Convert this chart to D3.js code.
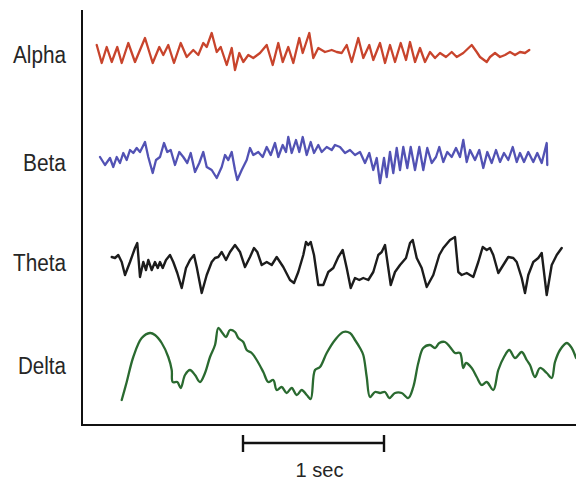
<!DOCTYPE html>
<html><head><meta charset="utf-8">
<script src="https://cdn.jsdelivr.net/npm/d3@7"></script>
<style>html,body{margin:0;padding:0;background:#fff;}svg{display:block;}</style>
</head><body>
<svg id="chart" width="576" height="484"></svg>
<script>
// Band names
const bands = ["Alpha", "Beta", "Theta", "Delta"];
const bandColors = ["#c8442c", "#5252b4", "#1c1c1c", "#2a6a30"];

// Time in ms, amplitude in arbitrary units
const alphaT = [103,138,173,208,247,278,324,371,441,495,541,569,604,644,691,733,779,814,849,873,908,943,971,1013,1048,1071,1101,1129,1164,1199,1246,1293,1335,1374,1405,1444,1479,1521,1545,1591,1619,1654,1701,1748,1783,1818,1853,1888,1934,1969,2011,2039,2086,2121,2156,2191,2231,2268,2296,2331,2366,2401,2436,2471,2506,2548,2588,2623,2669,2728,2763,2786,2833,2856,2891,2926,2961,2996,3031,3066,3101,3131];
const alphaV = [6,-12,4,-11,4,-12,8,-11,13,-12,4,-4,6,-12,8,-6,1,-4,8,4,18,-1,4,-14,3,-19,-2,-11,-4,-7,-2,6,-14,8,-11,4,-12,13,-2,18,-7,3,-1,1,-1,-2,6,-11,13,-7,6,-9,8,-12,6,-11,8,-9,9,-11,3,-11,-1,-7,-2,-6,-1,-6,-2,6,-1,-6,-11,-6,-2,-6,-4,-1,-4,-1,-2,1];

const betaT = [126,161,196,219,243,266,289,313,336,359,383,406,441,464,495,518,546,574,597,621,651,681,709,737,761,791,821,849,873,908,943,978,1001,1024,1048,1071,1087,1118,1153,1176,1199,1234,1265,1293,1321,1351,1374,1405,1428,1444,1468,1498,1521,1545,1573,1601,1624,1654,1678,1713,1748,1771,1806,1841,1876,1911,1946,1981,2011,2039,2063,2086,2114,2133,2156,2179,2203,2226,2249,2277,2301,2331,2361,2389,2417,2448,2478,2501,2529,2557,2588,2618,2646,2669,2693,2716,2751,2781,2809,2837,2868,2898,2926,2954,2984,3015,3043,3066,3094,3124,3159,3187,3218,3253,3257];
const betaV = [1,-7,0,-9,1,-5,5,-2,8,5,10,6,16,1,-15,-2,1,15,6,8,-7,6,1,-5,5,-14,-5,6,-9,-12,-20,-9,3,-2,6,-12,-22,-12,-2,10,3,6,1,11,3,15,1,13,6,21,5,18,6,21,3,16,5,13,6,11,8,13,11,5,8,3,6,-5,5,-12,0,-25,0,-19,6,-15,10,-12,11,-10,11,-12,11,-12,10,-5,1,11,-4,6,1,10,1,18,-4,8,-2,8,-10,6,-5,8,-4,5,-2,11,-4,5,-4,6,-4,5,-5,15,-7];

const thetaT = [208,231,254,278,301,336,371,387,406,429,448,464,488,511,530,546,565,588,616,639,667,698,728,756,784,803,838,873,908,931,954,978,1008,1036,1071,1106,1141,1176,1204,1227,1258,1293,1328,1363,1409,1456,1484,1514,1549,1568,1584,1601,1624,1654,1689,1724,1759,1794,1825,1853,1881,1911,1941,1969,2004,2039,2074,2098,2121,2133,2161,2191,2226,2268,2296,2315,2343,2378,2413,2459,2501,2529,2576,2611,2634,2658,2693,2739,2774,2805,2833,2856,2879,2914,2949,2984,3019,3043,3078,3101,3124,3159,3194,3218,3253,3288,3323,3358];
const thetaV = [7,6,9,2,-11,2,16,21,-13,2,-6,4,-6,2,-4,2,-4,4,9,2,-9,-24,-4,4,9,-3,-29,-11,2,6,7,12,4,12,19,12,-3,7,16,12,-1,2,-1,7,-3,-16,-19,-8,9,22,19,22,9,-21,-21,-8,-4,7,14,-4,-24,-14,-16,-14,-16,-8,9,12,19,7,-21,-8,-1,6,21,24,6,-4,-23,-11,9,16,24,27,-8,-11,-9,-13,2,17,14,16,9,-9,-1,7,6,2,-14,-29,-11,2,6,11,-31,-1,9,16];

const deltaT = [278,313,359,418,476,511,558,604,628,635,667,691,721,756,791,826,861,896,931,954,978,1008,1036,1071,1094,1129,1153,1188,1223,1269,1304,1339,1363,1398,1433,1468,1503,1538,1573,1601,1631,1666,1713,1771,1829,1876,1911,1946,1969,1993,2016,2051,2086,2121,2151,2191,2238,2284,2319,2354,2389,2436,2471,2501,2541,2576,2611,2646,2669,2688,2728,2763,2798,2833,2879,2914,2954,2991,3031,3078,3113,3136,3171,3206,3253,3288,3311,3346,3393,3428,3458];
const deltaV = [-35,-17,8,27,32,30,22,8,-5,-17,-17,-23,-10,-5,-10,-17,-8,8,20,37,33,28,35,33,27,23,15,12,5,-7,-17,-15,-25,-22,-28,-23,-30,-25,-30,-34,-5,-2,12,25,33,32,25,17,10,-12,-32,-27,-28,-27,-33,-28,-28,-33,-22,2,17,20,17,22,23,18,12,12,-3,2,-3,-12,-20,-17,-25,-5,8,15,7,13,5,0,-12,-3,-8,-13,3,15,22,17,7];

// Scale bar (ms)
const scaleBarStart = 1127;
const scaleBarEnd = 2114;
const scaleBarLabel = "1 sec";

const svg = d3.select("#chart");
const margin = {left: 82, top: 10, bottom: 425, right: 576};

const x = d3.scaleLinear().domain([0, 3458]).range([margin.left, margin.right]);
const rowCenters = d3.scaleOrdinal().domain(bands).range([51, 158, 264, 365]);
const labelBaselines = d3.scaleOrdinal().domain(bands).range([63, 171, 271, 374]);
const labelWidths = d3.scaleOrdinal().domain(bands).range([53, 43, 53, 48]);
const amp = d3.scaleLinear().domain([-40, 40]).range([40, -40]);

const series = [
  {name: "Alpha", t: alphaT, v: alphaV, curve: d3.curveLinear, w: 2.3},
  {name: "Beta", t: betaT, v: betaV, curve: d3.curveLinear, w: 2.3},
  {name: "Theta", t: thetaT, v: thetaV, curve: d3.curveLinear, w: 2.4},
  {name: "Delta", t: deltaT, v: deltaV, curve: d3.curveCatmullRom.alpha(0.5), w: 2.3}
];

series.forEach((s, i) => {
  const pts = s.t.map((t, j) => [t, s.v[j]]);
  const line = d3.line()
    .x(d => x(d[0]))
    .y(d => rowCenters(s.name) + amp(d[1]))
    .curve(s.curve);
  svg.append("path")
    .datum(pts)
    .attr("d", line)
    .attr("fill", "none")
    .attr("stroke", bandColors[i])
    .attr("stroke-width", s.w)
    .attr("stroke-linejoin", "round")
    .attr("stroke-linecap", "round");
});

// Labels
svg.selectAll("text.band")
  .data(bands)
  .join("text")
  .attr("class", "band")
  .attr("x", 66)
  .attr("y", d => labelBaselines(d))
  .attr("text-anchor", "end")
  .attr("font-family", "Liberation Sans, Arial, sans-serif")
  .attr("font-size", 23)
  .attr("fill", "#262626")
  .attr("textLength", d => labelWidths(d))
  .attr("lengthAdjust", "spacingAndGlyphs")
  .text(d => d);

// Axes lines
svg.append("line")
  .attr("x1", margin.left).attr("x2", margin.left)
  .attr("y1", margin.top).attr("y2", margin.bottom)
  .attr("stroke", "#111").attr("stroke-width", 2);
svg.append("line")
  .attr("x1", margin.left - 1).attr("x2", margin.right)
  .attr("y1", margin.bottom).attr("y2", margin.bottom)
  .attr("stroke", "#111").attr("stroke-width", 2);

// Scale bar
const sbY = 443;
const sb = svg.append("g").attr("stroke", "#111").attr("stroke-width", 2.4);
sb.append("line").attr("x1", x(scaleBarStart)).attr("x2", x(scaleBarEnd)).attr("y1", sbY).attr("y2", sbY);
sb.append("line").attr("x1", x(scaleBarStart)).attr("x2", x(scaleBarStart)).attr("y1", sbY - 8).attr("y2", sbY + 9);
sb.append("line").attr("x1", x(scaleBarEnd)).attr("x2", x(scaleBarEnd)).attr("y1", sbY - 8).attr("y2", sbY + 9);
svg.append("text")
  .attr("x", (x(scaleBarStart) + x(scaleBarEnd)) / 2 + 6)
  .attr("y", 477)
  .attr("text-anchor", "middle")
  .attr("font-family", "Liberation Sans, Arial, sans-serif")
  .attr("font-size", 21)
  .attr("fill", "#262626")
  .attr("textLength", 48)
  .attr("lengthAdjust", "spacingAndGlyphs")
  .text(scaleBarLabel);
</script>
</body></html>
